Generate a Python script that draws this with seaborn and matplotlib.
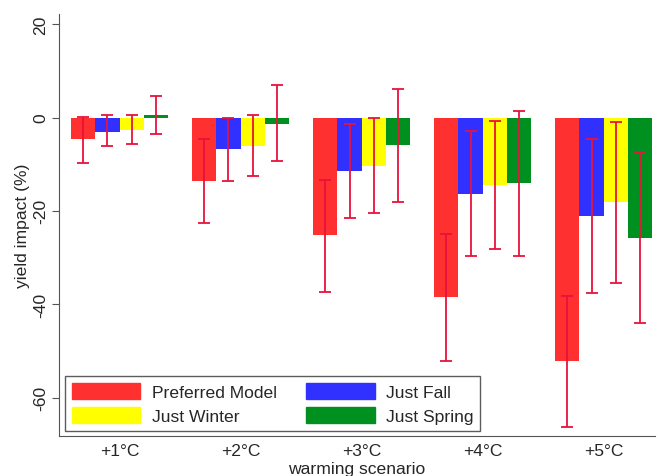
import seaborn as sns
import matplotlib.pyplot as plt
import matplotlib.patches as mpatches
import pandas as pd

# values
scenarios = ["+1°C", "+2°C", "+3°C", "+4°C", "+5°C"]
models = ["Preferred Model", "Just Fall", "Just Winter", "Just Spring"]
colors = ["#ff3030", "#3030ff", "#ffff00", "#00901f"]

preferred = [-4.7, -13.5, -25.2, -38.4, -52.1]
just_fall = [-3.0, -6.8, -11.4, -16.3, -21.1]
just_winter = [-2.6, -6.2, -10.3, -14.5, -18.1]
just_spring = [0.5, -1.3, -5.9, -14.1, -25.7]

preferred_lo = [-9.8, -22.6, -37.3, -52.1, -66.2]
preferred_hi = [0.2, -4.6, -13.3, -25.0, -38.2]
fall_lo = [-6.2, -13.6, -21.6, -29.7, -37.6]
fall_hi = [0.5, 0.0, -1.3, -2.9, -4.6]
winter_lo = [-5.7, -12.6, -20.4, -28.2, -35.5]
winter_hi = [0.5, 0.5, -0.2, -0.8, -1.0]
spring_lo = [-3.5, -9.4, -18.0, -29.7, -44.1]
spring_hi = [4.6, 7.0, 6.1, 1.3, -7.6]

values = [preferred, just_fall, just_winter, just_spring]
lows = [preferred_lo, fall_lo, winter_lo, spring_lo]
highs = [preferred_hi, fall_hi, winter_hi, spring_hi]

rows = []
for m, vals in zip(models, values):
    for s, v in zip(scenarios, vals):
        rows.append({"scenario": s, "model": m, "impact": v})
df = pd.DataFrame(rows)

sns.set_style("ticks")
plt.rcParams['font.family'] = ['Liberation Sans', 'DejaVu Sans']
plt.rcParams['font.size'] = 12.6

fig = plt.figure(figsize=(6.58, 4.77), dpi=100)
ax = fig.add_axes([0.0897, 0.0839, 0.905, 0.885])

sns.barplot(data=df, x="scenario", y="impact", hue="model", order=scenarios,
            hue_order=models, palette=colors, saturation=1, width=0.8,
            errorbar=None, ax=ax, linewidth=0)

# error bars at the centre of every bar
for cont, lo, hi in zip(ax.containers, lows, highs):
    for bar, l, h in zip(cont, lo, hi):
        xc = bar.get_x() + bar.get_width() / 2
        ax.errorbar([xc], [(l + h) / 2], yerr=[[(h - l) / 2]], fmt="none",
                    ecolor="#e8123c", elinewidth=1.3, capsize=4, capthick=1.3)

ax.set_xlim(-0.5, 4.42)
ax.set_ylim(-68.2, 22.2)
ax.set_yticks([-60, -40, -20, 0, 20])
ax.set_yticklabels(["-60", "-40", "-20", "0", "20"], rotation=90, va="center")
ax.tick_params(axis="x", length=0, pad=5)
ax.tick_params(axis="y", length=5, color="#555555", pad=3)
ax.set_xlabel("warming scenario", labelpad=2)
ax.set_ylabel("yield impact (%)", labelpad=2)

sns.despine(ax=ax)
for sp in ["left", "bottom"]:
    ax.spines[sp].set_color("#555555")

ax.get_legend().remove()
handles = [mpatches.Patch(color=c) for c in colors]
# column-major fill -> reorder so rows read Preferred/Fall, Winter/Spring
order = [0, 2, 1, 3]
leg = ax.legend([handles[i] for i in order], [models[i] for i in order],
                ncol=2, loc="lower left", bbox_to_anchor=(0.01, 0.012),
                frameon=True, fancybox=False, edgecolor="#333333",
                handlelength=3.9, handleheight=1.0, handletextpad=0.65,
                columnspacing=1.7, labelspacing=0.4, borderpad=0.4,
                borderaxespad=0, fontsize=12.6)
leg.get_frame().set_linewidth(1.0)

fig.savefig("out.png", dpi=100)
